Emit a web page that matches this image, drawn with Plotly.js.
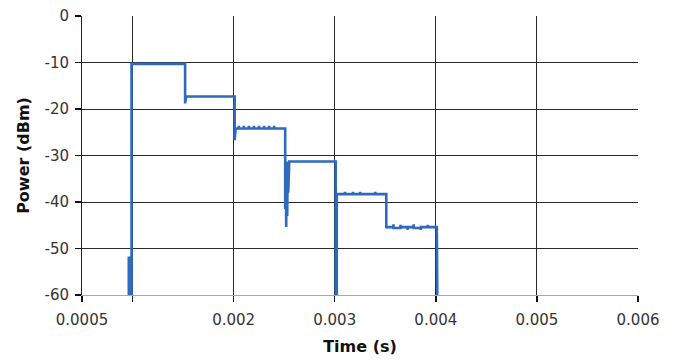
<!DOCTYPE html>
<html>
<head>
<meta charset="utf-8">
<script src="https://cdn.plot.ly/plotly-3.0.1.min.js"></script>
<style>html,body{margin:0;padding:0;background:#fff;}#chart{width:675px;height:360px;}</style>
</head>
<body>
<div id="chart"></div>
<script>
// Time (s)
const timeS = [
  0.00095, 0.000963, 0.000963, 0.000968, 0.000968, 0.00099, 0.00099,
  0.00152, 0.00152, 0.001525, 0.00153,
  0.00165, 0.00180, 0.00201,
  0.00201, 0.002015, 0.00202,
  0.00205, 0.002051, 0.002052, 0.00210, 0.002101, 0.002102, 0.00215, 0.002151, 0.002152,
  0.00220, 0.002201, 0.002202, 0.00225, 0.002251, 0.002252, 0.00230, 0.002301, 0.002302,
  0.00235, 0.002351, 0.002352, 0.00240, 0.002401, 0.002402, 0.00251,
  0.00251, 0.002515, 0.00252, 0.002525, 0.00253, 0.002535, 0.00254, 0.002545, 0.00255,
  0.00270, 0.00285, 0.00301, 0.00301, 0.00302, 0.00302,
  0.00310, 0.003101, 0.003102, 0.00318, 0.003181, 0.003182, 0.00325, 0.003251, 0.003252,
  0.00340, 0.003401, 0.003402, 0.00351,
  0.00351, 0.00352,
  0.00358, 0.003581, 0.003582, 0.00365, 0.003651, 0.003652, 0.00372, 0.003721, 0.003722,
  0.00378, 0.003781, 0.003782, 0.00385, 0.003851, 0.003852, 0.00392, 0.003921, 0.003922,
  0.00401, 0.00401, 0.004015, 0.004015
];
// Power (dBm)
const powerDbm = [
  -61, -61, -52, -52, -61, -61, -10.3,
  -10.3, -18.8, -17.3, -17.3,
  -17.3, -17.3, -17.3,
  -26.7, -24.2, -24.2,
  -24.2, -23.6, -24.2, -24.2, -23.6, -24.2, -24.2, -23.6, -24.2,
  -24.2, -23.6, -24.2, -24.2, -23.6, -24.2, -24.2, -23.6, -24.2,
  -24.2, -23.6, -24.2, -24.2, -23.6, -24.2, -24.2,
  -41.5, -31.3, -45.4, -31.3, -43.0, -31.3, -38.0, -31.3, -31.3,
  -31.3, -31.3, -31.3, -61, -61, -38.3,
  -38.3, -37.8, -38.3, -38.3, -37.8, -38.3, -38.3, -37.8, -38.3,
  -38.3, -37.8, -38.3, -38.3,
  -45.6, -45.4,
  -45.4, -44.8, -45.6, -45.6, -44.9, -45.4, -45.4, -46.0, -45.4,
  -45.4, -44.8, -45.6, -45.6, -46.0, -45.4, -45.4, -44.9, -45.4,
  -45.4, -49.5, -49.5, -61
];
const xTickVals = [0.0005, 0.001, 0.002, 0.003, 0.004, 0.005, 0.006];
const xTickText = ["0.0005", "", "0.002", "0.003", "0.004", "0.005", "0.006"];
const yTickVals = [0, -10, -20, -30, -40, -50, -60];
const yTickText = ["0", "-10", "-20", "-30", "-40", "-50", "-60"];

const trace = {
  x: timeS, y: powerDbm, type: 'scatter', mode: 'lines',
  line: {color: '#2e6bbf', width: 2.6, shape: 'linear'},
  hoverinfo: 'skip'
};
const fam = 'DejaVu Sans, Verdana, sans-serif';
const font = {family: fam, size: 15, color: '#333'};
const titleFont = {family: fam, size: 16, color: '#111', weight: 'bold'};
const layout = {
  width: 675, height: 360,
  margin: {l: 82, r: 37, t: 16, b: 65},
  paper_bgcolor: '#fff', plot_bgcolor: '#fff',
  showlegend: false,
  font: font,
  xaxis: {
    range: [0.0005, 0.006], tickmode: 'array', tickvals: xTickVals, ticktext: xTickText,
    showgrid: true, gridcolor: '#2a2a2a', gridwidth: 1, zeroline: false,
    showline: true, linecolor: '#a8a8a8', linewidth: 1,
    ticks: 'outside', ticklen: 6, tickcolor: '#111111', tickwidth: 1.5,
    ticklabelstandoff: 5,
    tickfont: font,
    title: {text: 'Time (s)', font: titleFont, standoff: 12}
  },
  yaxis: {
    range: [-60, 0], tickmode: 'array', tickvals: yTickVals, ticktext: yTickText,
    showgrid: true, gridcolor: '#2a2a2a', gridwidth: 1, zeroline: false,
    showline: true, linecolor: '#222', linewidth: 1,
    ticks: 'outside', ticklen: 6, tickcolor: '#111111', tickwidth: 1.5,
    ticklabelstandoff: 3,
    tickfont: font,
    title: {text: 'Power (dBm)', font: titleFont, standoff: 10}
  }
};
Plotly.newPlot('chart', [trace], layout, {staticPlot: true, displayModeBar: false});
</script>
</body>
</html>
